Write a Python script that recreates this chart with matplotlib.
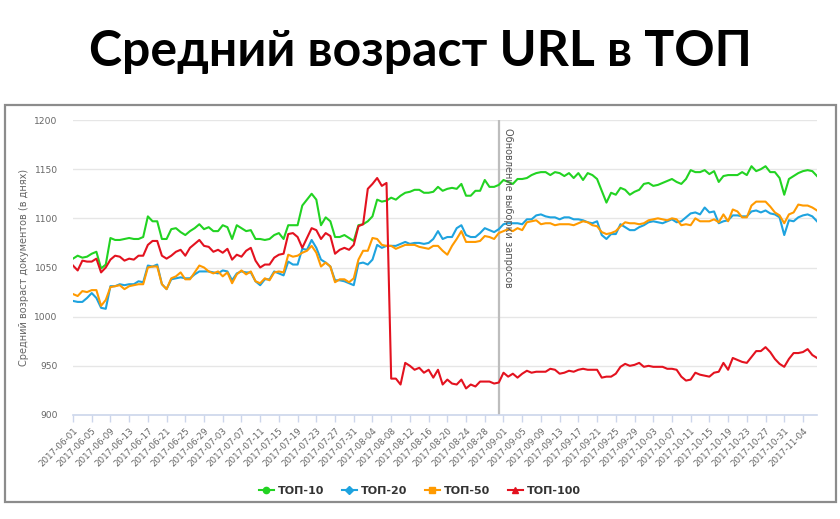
import matplotlib
matplotlib.use("Agg")
import matplotlib.pyplot as plt
import matplotlib.patches as patches
from matplotlib.lines import Line2D
import pandas as pd

# dates on the x axis (one point per day)
dates = pd.date_range("2017-06-01", periods=160).strftime("%Y-%m-%d").tolist()

top10 = [1059, 1062, 1060, 1061, 1064, 1066, 1049, 1053, 1080, 1078,
         1078, 1079, 1080, 1079, 1079, 1081, 1102, 1097, 1097, 1079,
         1079, 1089, 1090, 1086, 1083, 1087, 1090, 1094, 1089, 1091,
         1087, 1087, 1093, 1091, 1079, 1093, 1090, 1087, 1088, 1079,
         1079, 1078, 1079, 1083, 1085, 1079, 1093, 1093, 1093, 1113,
         1119, 1125, 1119, 1093, 1101, 1097, 1081, 1081, 1083, 1080,
         1077, 1093, 1094, 1097, 1102, 1119, 1117, 1118, 1121, 1119,
         1123, 1126, 1127, 1129, 1129, 1126, 1126, 1127, 1132, 1128,
         1130, 1131, 1130, 1135, 1123, 1123, 1128, 1128, 1139, 1132,
         1132, 1134, 1139, 1137, 1135, 1140, 1140, 1141, 1144, 1146,
         1147, 1147, 1144, 1147, 1146, 1143, 1146, 1141, 1146, 1139,
         1146, 1144, 1140, 1128, 1116, 1126, 1124, 1131, 1129, 1124,
         1127, 1129, 1135, 1136, 1133, 1134, 1136, 1138, 1140, 1137,
         1135, 1140, 1149, 1147, 1147, 1149, 1145, 1148, 1137, 1143,
         1144, 1144, 1144, 1147, 1144, 1153, 1148, 1150, 1153, 1147,
         1147, 1141, 1124, 1140, 1143, 1146, 1148, 1149, 1148, 1143]

top20 = [1016, 1015, 1015, 1019, 1024, 1019, 1009, 1008, 1031, 1031,
         1033, 1032, 1033, 1033, 1036, 1035, 1052, 1051, 1053, 1033,
         1028, 1038, 1039, 1040, 1039, 1039, 1043, 1046, 1046, 1046,
         1045, 1044, 1047, 1046, 1037, 1044, 1046, 1045, 1045, 1036,
         1032, 1038, 1038, 1046, 1044, 1042, 1056, 1053, 1053, 1069,
         1068, 1078, 1070, 1058, 1055, 1051, 1037, 1037, 1036, 1034,
         1032, 1054, 1055, 1053, 1058, 1073, 1070, 1072, 1072, 1072,
         1074, 1076, 1074, 1075, 1075, 1074, 1075, 1079, 1087, 1079,
         1081, 1081, 1090, 1093, 1083, 1081, 1081, 1085, 1090, 1088,
         1086, 1089, 1094, 1095, 1095, 1095, 1094, 1099, 1099, 1103,
         1104, 1102, 1101, 1101, 1099, 1101, 1101, 1099, 1099, 1098,
         1096, 1095, 1097, 1083, 1079, 1084, 1084, 1094, 1091, 1088,
         1088, 1091, 1093, 1096, 1097, 1096, 1095, 1097, 1099, 1096,
         1097, 1101, 1105, 1106, 1104, 1111, 1106, 1107, 1095, 1097,
         1098, 1103, 1103, 1102, 1102, 1107, 1108, 1106, 1108, 1105,
         1104, 1101, 1083, 1098, 1097, 1101, 1103, 1104, 1102, 1097]

top50 = [1023, 1021, 1026, 1025, 1027, 1027, 1011, 1017, 1030, 1031,
         1032, 1028, 1031, 1032, 1033, 1033, 1050, 1051, 1051, 1033,
         1028, 1039, 1041, 1045, 1038, 1038, 1045, 1052, 1050, 1046,
         1044, 1046, 1041, 1045, 1034, 1043, 1047, 1043, 1046, 1036,
         1034, 1039, 1037, 1045, 1046, 1045, 1063, 1061, 1062, 1065,
         1067, 1072, 1065, 1051, 1055, 1051, 1035, 1038, 1038, 1035,
         1039, 1058, 1067, 1067, 1080, 1079, 1073, 1072, 1072, 1069,
         1071, 1073, 1073, 1073, 1071, 1070, 1069, 1072, 1072, 1067,
         1063, 1072, 1079, 1087, 1076, 1076, 1076, 1077, 1082, 1081,
         1079, 1085, 1087, 1089, 1087, 1090, 1088, 1096, 1097, 1098,
         1094, 1095, 1095, 1093, 1094, 1094, 1094, 1093, 1095, 1097,
         1096, 1093, 1092, 1086, 1084, 1085, 1087, 1092, 1096, 1095,
         1095, 1094, 1095, 1098, 1099, 1100, 1099, 1098, 1100, 1099,
         1093, 1094, 1093, 1100, 1097, 1097, 1097, 1099, 1096, 1104,
         1097, 1109, 1107, 1101, 1101, 1113, 1117, 1117, 1117, 1112,
         1106, 1103, 1095, 1104, 1106, 1114, 1113, 1113, 1111, 1108]

top100 = [1052, 1047, 1057, 1056, 1056, 1059, 1045, 1050, 1058, 1062,
          1061, 1057, 1059, 1058, 1062, 1062, 1073, 1077, 1077, 1062,
          1059, 1062, 1066, 1068, 1062, 1070, 1074, 1078, 1072, 1071,
          1066, 1068, 1065, 1069, 1058, 1063, 1061, 1067, 1070, 1057,
          1050, 1053, 1053, 1060, 1063, 1064, 1084, 1085, 1081, 1070,
          1080, 1090, 1088, 1079, 1085, 1082, 1064, 1068, 1070, 1068,
          1073, 1092, 1094, 1130, 1135, 1141, 1133, 1136, 937, 937,
          931, 953, 950, 946, 948, 943, 946, 938, 946, 931,
          936, 932, 931, 936, 927, 931, 929, 934, 934, 934,
          932, 933, 943, 939, 942, 938, 942, 945, 943, 944,
          944, 944, 947, 946, 942, 943, 945, 944, 946, 947,
          946, 946, 946, 938, 939, 939, 942, 949, 952, 950,
          951, 953, 949, 950, 949, 949, 949, 947, 947, 946,
          939, 935, 936, 943, 941, 940, 939, 943, 944, 953,
          946, 958, 956, 954, 953, 959, 965, 965, 969, 964,
          957, 952, 949, 957, 963, 963, 964, 967, 961, 958]

series_names = ["ТОП-10", "ТОП-20", "ТОП-50", "ТОП-100"]
series_colors = ["#22d322", "#1ea3df", "#ff9a00", "#e3121f"]
series_markers = ["o", "D", "s", "^"]

update_date = "2017-08-31"
update_label = "Обновление выборки запросов"

fig = plt.figure(figsize=(8.4, 5.19), dpi=100)

fig.text(0.5, 1 - 66 / 519, "Средний возраст URL в ТОП", ha="center", va="baseline",
         fontsize=36, fontweight="bold", family="Lato", color="black")

# grey frame around the chart
fig.patches.append(patches.Rectangle((5 / 840, 1 - 502 / 519), 831 / 840, 397 / 519,
                                     transform=fig.transFigure, fill=False,
                                     edgecolor="#8c8c8c", linewidth=1.6))

ax = fig.add_axes([73 / 840, 1 - 415 / 519, 744 / 840, 295 / 519])

x = list(range(len(dates)))
for vals, col in zip([top10, top20, top50, top100], series_colors):
    ax.plot(x, vals, color=col, linewidth=1.5)

xi = dates.index(update_date)
ax.axvline(xi, color="#bdbdbd", linewidth=1.6, zorder=1)
ax.text(xi + 0.9, 1192, update_label, rotation=-90, ha="left", va="top",
        fontsize=7, color="#555555")

ax.set_xlim(0, len(dates) - 1)
ax.set_ylim(900, 1200)
ax.set_yticks([900, 950, 1000, 1050, 1100, 1150, 1200])
ax.set_xticks(x[::4])
ax.set_xticklabels(dates[::4], rotation=45, ha="right", rotation_mode="anchor",
                   fontsize=6.3, color="#666666")
ax.tick_params(axis="x", length=5, width=1, color="#ccd6eb", pad=3)
ax.tick_params(axis="y", length=0, pad=11, labelsize=6.6, labelcolor="#666666")

ax.grid(axis="y", color="#e6e6e6", linewidth=1)
ax.set_axisbelow(True)
for s in ["left", "right", "top"]:
    ax.spines[s].set_visible(False)
ax.spines["bottom"].set_color("#ccd6eb")
ax.spines["bottom"].set_linewidth(1.2)

fig.text(24 / 840, 1 - 267 / 519, "Средний возраст документов (в днях)", rotation=90,
         ha="center", va="center", fontsize=7, color="#666666")

# legend entries: line with a marker in the middle
handles = [Line2D([0], [0], color=c, linewidth=1.5, marker=m, markersize=4.5)
           for c, m in zip(series_colors, series_markers)]
leg = fig.legend(handles, series_names, loc="center", bbox_to_anchor=(0.5, 1 - 491 / 519),
                 ncol=4, frameon=False, handlelength=1.3, handletextpad=0.4,
                 columnspacing=1.6, numpoints=1,
                 prop={"size": 8, "weight": "bold"})
for t in leg.get_texts():
    t.set_color("#333333")

fig.savefig("out.png", dpi=100)
